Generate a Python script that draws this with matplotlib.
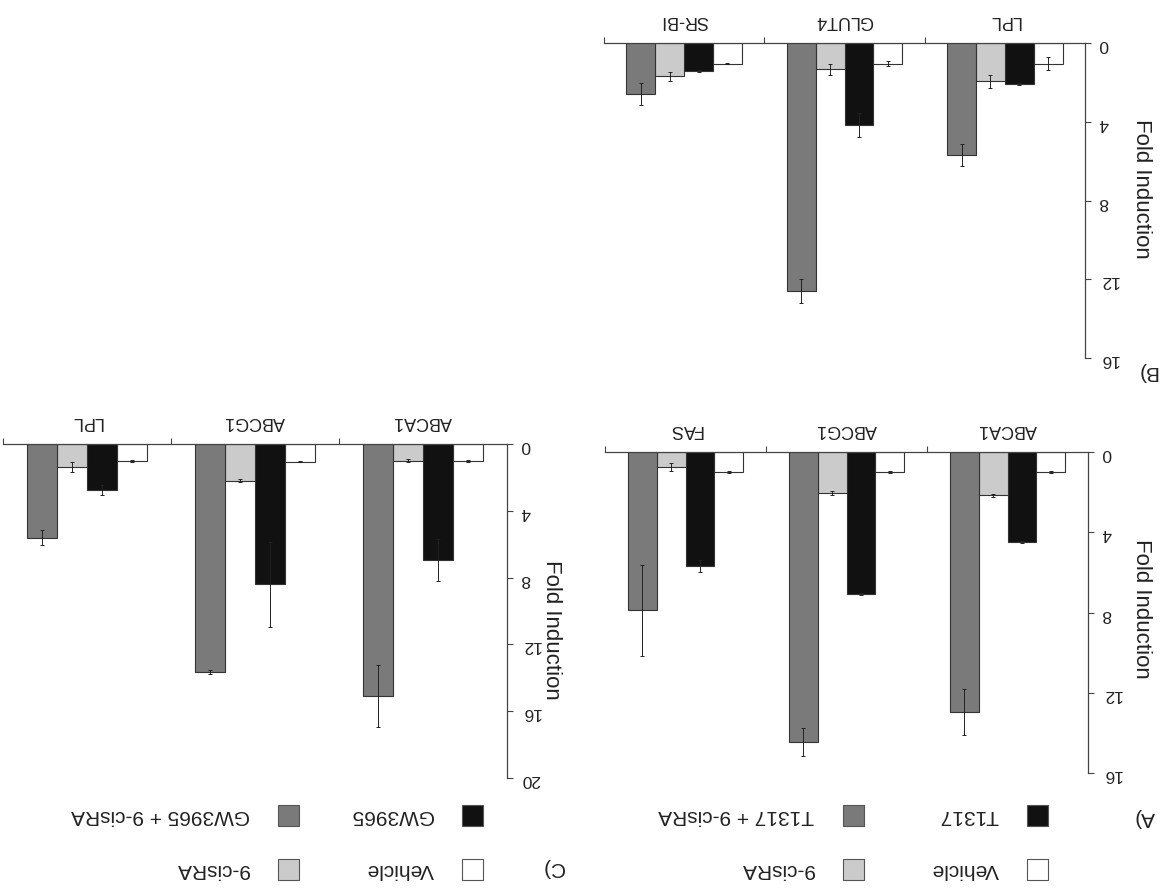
import numpy as np
import matplotlib
matplotlib.use('Agg')
from matplotlib import pyplot as plt
from matplotlib.patches import Rectangle

plt.rcParams['font.family'] = ['Liberation Sans', 'DejaVu Sans']

# データ (パネルA)
cats_a = ['ABCA1', 'ABCG1', 'FAS']
veh_a = [1.0, 1.0, 1.0]
veh_a_err = [0.05, 0.05, 0.05]
t1317_a = [4.5, 7.1, 5.7]
t1317_a_err = [0.05, 0.05, 0.3]
cis_a = [2.15, 2.05, 0.75]
cis_a_err = [0.08, 0.1, 0.2]
combo_a = [12.95, 14.45, 7.9]
combo_a_err = [1.15, 0.7, 2.25]

# データ (パネルB)
cats_b = ['LPL', 'GLUT4', 'SR-BI']
veh_b = [1.05, 1.05, 1.05]
veh_b_err = [0.33, 0.14, 0.03]
t1317_b = [2.1, 4.15, 1.42]
t1317_b_err = [0.05, 0.6, 0.03]
cis_b = [1.95, 1.33, 1.7]
cis_b_err = [0.32, 0.27, 0.25]
combo_b = [5.7, 12.6, 2.6]
combo_b_err = [0.55, 0.62, 0.55]

# データ (パネルC)
cats_c = ['ABCA1', 'ABCG1', 'LPL']
veh_c = [1.0, 1.05, 1.0]
veh_c_err = [0.05, 0.05, 0.05]
gw_c = [6.95, 8.4, 2.75]
gw_c_err = [1.25, 2.55, 0.3]
cis_c = [1.0, 2.2, 1.35]
cis_c_err = [0.1, 0.1, 0.3]
combo_c = [15.1, 13.65, 5.6]
combo_c_err = [1.85, 0.1, 0.45]

legend_a = ['Vehicle', '9-cisRA', 'T1317', 'T1317 + 9-cisRA']
legend_c = ['Vehicle', '9-cisRA', 'GW3965', 'GW3965 + 9-cisRA']

colors = ['#ffffff', '#111111', '#cbcbcb', '#7a7a7a']
legend_colors = ['#ffffff', '#cbcbcb', '#111111', '#7a7a7a']

W, H = 1171, 893
fig = plt.figure(figsize=(W / 100, H / 100), dpi=100)
fig.patch.set_facecolor('white')
txt = '#222222'
axc = '#444444'


def px(x, y):
    return x / W, 1 - y / H


def panel(rect, cats, series, errs, ymax, yticks):
    l, t, r, b = rect
    ax = fig.add_axes([l / W, 1 - b / H, (r - l) / W, (b - t) / H])
    width = 0.18
    x = np.arange(len(cats))
    for j in range(4):
        pos = x + 0.5 + (j - 1.5) * width
        ax.bar(pos, series[j], width, color=colors[j], edgecolor='#333333',
               linewidth=0.8, zorder=2)
        ax.errorbar(pos, series[j], yerr=errs[j], fmt='none', ecolor='#222222',
                    elinewidth=0.7, capsize=1.5, capthick=0.7, zorder=3)
    # 上下逆さまの配置
    ax.set_xlim(len(cats), 0)
    ax.set_ylim(ymax, 0)
    for s in ['left', 'bottom']:
        ax.spines[s].set_visible(False)
    for s in ['top', 'right']:
        ax.spines[s].set_color(axc)
        ax.spines[s].set_linewidth(0.9)
    ax.xaxis.tick_top()
    ax.yaxis.tick_right()
    ax.set_xticks(x + 0.5)
    ax.set_xticklabels(cats)
    ax.set_xticks(np.arange(1, len(cats) + 1), minor=True)
    ax.tick_params(axis='x', which='major', length=0, pad=10, labelsize=13,
                   labelrotation=180, labelcolor=txt)
    ax.tick_params(axis='x', which='minor', length=4, width=0.8, color=axc,
                   direction='out')
    ax.set_yticks(yticks)
    ax.tick_params(axis='y', length=4, width=0.8, color=axc, direction='out',
                   pad=6, labelsize=12.5, labelrotation=180, labelcolor=txt)
    ax.patch.set_alpha(0)
    return ax


panel((605, 452, 1088, 773), cats_a,
      [veh_a, t1317_a, cis_a, combo_a],
      [veh_a_err, t1317_a_err, cis_a_err, combo_a_err], 16, [0, 4, 8, 12, 16])
panel((604, 43, 1085, 358), cats_b,
      [veh_b, t1317_b, cis_b, combo_b],
      [veh_b_err, t1317_b_err, cis_b_err, combo_b_err], 16, [0, 4, 8, 12, 16])
panel((3, 444, 507, 778), cats_c,
      [veh_c, gw_c, cis_c, combo_c],
      [veh_c_err, gw_c_err, cis_c_err, combo_c_err], 20, [0, 4, 8, 12, 16, 20])

# 軸ラベル
for (x, y) in [(1141, 609), (1142, 189), (552, 630)]:
    fig.text(*px(x, y), 'Fold Induction', rotation=270, ha='center',
             va='center', fontsize=16, color=txt)

# パネル記号
for (x, y, s) in [(1145, 818, 'A)'), (1147, 372, 'B)'), (553, 868, 'C)')]:
    fig.text(*px(x, y), s, rotation=180, ha='center', va='center',
             fontsize=15, color=txt)


# 凡例 (逆さま)
def legend(labels, xs, ys):
    k = 0
    for y in ys[::-1]:
        for x in xs:
            sq = 21
            x0, y0 = px(x + sq / 2, y + sq / 2)
            fig.add_artist(Rectangle((x0, y0), sq / W, sq / H,
                                     transform=fig.transFigure,
                                     facecolor=legend_colors[k],
                                     edgecolor='#555555', linewidth=0.8))
            fig.text(*px(x - sq / 2 - 7, y), labels[k], rotation=180,
                     ha='right', va='center', fontsize=15, color=txt)
            k += 1


legend(legend_a, [1016, 832], [815, 869])
legend(legend_c, [451, 267], [815, 869])

fig.savefig('out.png', dpi=100, facecolor='white')
